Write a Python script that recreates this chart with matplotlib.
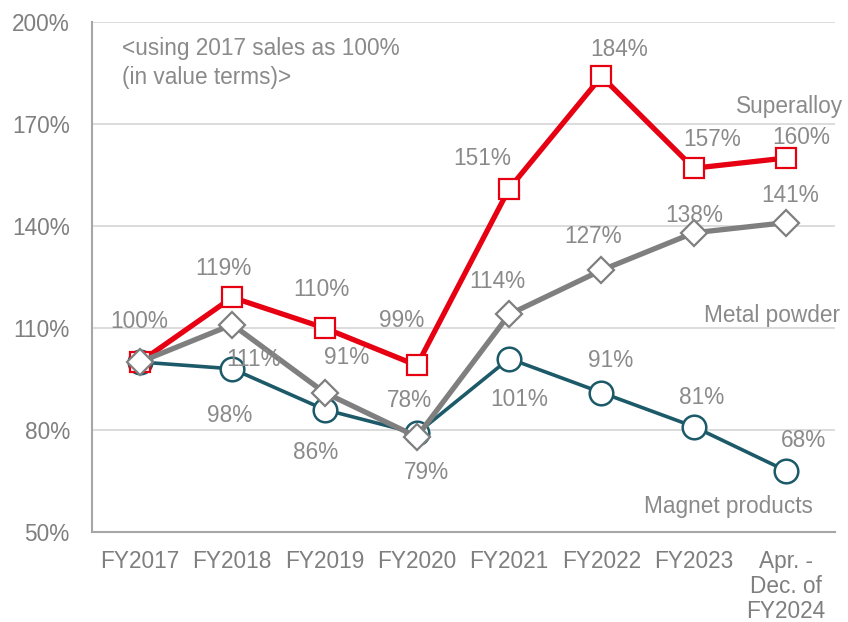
import matplotlib

matplotlib.use("Agg")

import matplotlib.pyplot as plt

plt.rcParams["font.family"] = ["Liberation Sans", "DejaVu Sans"]

# --- data ---
categories = ["FY2017", "FY2018", "FY2019", "FY2020", "FY2021", "FY2022",
              "FY2023", "Apr. -\nDec. of\nFY2024"]
superalloy = [100, 119, 110, 99, 151, 184, 157, 160]
metal_powder = [100, 111, 91, 78, 114, 127, 138, 141]
magnet = [100, 98, 86, 79, 101, 91, 81, 68]
y_ticks = [50, 80, 110, 140, 170, 200]

# label offsets in pixels (dx, dy), one per point
off_super = [(-1, 40), (-9, 29), (-3, 39), (-15, 45), (-27, 30), (18, 27), (18, 29), (15, 21)]
off_metal = [(0, 0), (21, -35), (22, 35), (-7, 36), (-12, 33), (-8, 34), (0, 17), (4, 27)]
off_magnet = [(0, 0), (-3, -47), (-9, -43), (10, -39), (10, -41), (9, 32), (8, 29), (17, 30)]

RED = "#e60012"
GRAY = "#7f7f7f"
TEAL = "#1d5a69"
TXT = "#8a8a8a"
FS = 16.3

fig = plt.figure(figsize=(8.48, 6.22), dpi=100)
ax = fig.add_axes([92 / 848, 1 - 532 / 622, (835 - 92) / 848, (532 - 22) / 622])

x = list(range(len(categories)))

ax.plot(x, magnet, color=TEAL, lw=2.6, marker="o", ms=17, mfc="white",
        mec=TEAL, mew=1.8, zorder=3)
ax.plot(x, superalloy, color=RED, lw=3.8, marker="s", ms=15, mfc="white",
        mec=RED, mew=1.6, zorder=4)
ax.plot(x, metal_powder, color=GRAY, lw=3.8, marker="D", ms=13.5, mfc="white",
        mec=GRAY, mew=1.6, zorder=5)


def labels(vals, offs, skip_first=False):
    for i, (v, o) in enumerate(zip(vals, offs)):
        if skip_first and i == 0:
            continue
        ax.annotate(f"{v}%", (i, v), xytext=o, textcoords="offset pixels",
                    ha="center", va="center", fontsize=FS, color=TXT, zorder=6)


labels(superalloy, off_super)
labels(metal_powder, off_metal, skip_first=True)
labels(magnet, off_magnet, skip_first=True)

# series names
ax.text(7.62, 175, "Superalloy", ha="right", va="center", fontsize=FS, color=TXT)
ax.text(7.58, 113.8, "Metal powder", ha="right", va="center", fontsize=FS, color=TXT)
ax.text(7.29, 57.4, "Magnet products", ha="right", va="center", fontsize=FS, color=TXT)

ax.text(-0.195, 195.5, "<using 2017 sales as 100%\n(in value terms)>", ha="left",
        va="top", fontsize=FS, color=TXT, linespacing=1.3)

ax.set_xlim(-0.52, 7.53)
ax.set_ylim(50, 200)
ax.set_yticks(y_ticks)
ax.set_yticklabels([f"{t}%" for t in y_ticks])
ax.set_xticks(x)
ax.set_xticklabels(categories, linespacing=1.12)
ax.tick_params(axis="y", length=0, pad=16, labelsize=FS, labelcolor=GRAY)
ax.tick_params(axis="x", length=0, pad=13, labelsize=FS, labelcolor=GRAY)
ax.yaxis.grid(True, color="#d9d9d9", lw=1.3)
ax.set_axisbelow(True)
for s in ["top", "right"]:
    ax.spines[s].set_visible(False)
for s in ["left", "bottom"]:
    ax.spines[s].set_color("#a6a6a6")
    ax.spines[s].set_linewidth(1.5)

fig.savefig("out.png", dpi=100)
